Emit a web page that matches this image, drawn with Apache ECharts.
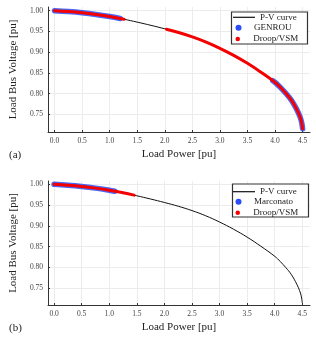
<!DOCTYPE html>
<html>
<head>
<meta charset="utf-8">
<script src="https://cdn.jsdelivr.net/npm/echarts@6/dist/echarts.min.js"></script>
<style>
html,body{margin:0;padding:0;background:#fff;}
#chart{width:316px;height:337px;}
</style>
</head>
<body>
<div id="chart"></div>
<script>
// ---- data ----
const pvP = [0, 0.25, 0.5, 0.75, 1.0, 1.25, 1.5, 1.75, 2.0, 2.25, 2.5, 2.75, 3.0, 3.25, 3.5, 3.75, 4.0, 4.1, 4.2, 4.3, 4.4, 4.45, 4.48, 4.5];
const pvV = [1.0, 0.9978, 0.9948, 0.9908, 0.9858, 0.9796, 0.9724, 0.9646, 0.9563, 0.9473, 0.9368, 0.9243, 0.9093, 0.8923, 0.8730, 0.851, 0.827, 0.8145, 0.800, 0.7835, 0.760, 0.745, 0.732, 0.715];

// panel (a)
const genrouP1 = [0, 0.25, 0.5, 0.75, 1.0, 1.19];
const genrouV1 = [1.0, 0.9978, 0.9948, 0.9908, 0.9858, 0.9812];
const genrouP2 = [3.96, 4.0, 4.1, 4.2, 4.3, 4.4, 4.45, 4.48, 4.5];
const genrouV2 = [0.831, 0.827, 0.8145, 0.800, 0.7835, 0.760, 0.745, 0.732, 0.715];
const droopAP1 = [0, 0.25, 0.5, 0.75, 1.0, 1.26];
const droopAV1 = [1.0, 0.9978, 0.9948, 0.9908, 0.9858, 0.9793];
const droopAP2 = [2.03, 2.25, 2.5, 2.75, 3.0, 3.25, 3.5, 3.75, 4.0, 4.1, 4.2, 4.3, 4.4, 4.45, 4.48, 4.5];
const droopAV2 = [0.9553, 0.9473, 0.9368, 0.9243, 0.9093, 0.8923, 0.8730, 0.851, 0.827, 0.8145, 0.800, 0.7835, 0.760, 0.745, 0.732, 0.715];

// panel (b)
const marcP = [0, 0.25, 0.5, 0.75, 1.0, 1.1];
const marcV = [1.0, 0.9978, 0.9948, 0.9908, 0.9858, 0.9834];
const droopBP = [0, 0.25, 0.5, 0.75, 1.0, 1.25, 1.45];
const droopBV = [1.0, 0.9978, 0.9948, 0.9908, 0.9858, 0.9796, 0.9740];

const xTicks = [0, 0.5, 1.0, 1.5, 2.0, 2.5, 3.0, 3.5, 4.0, 4.5];
const yTicks = [0.75, 0.80, 0.85, 0.90, 0.95, 1.00];

// ---- helpers ----
const zip = (a, b) => a.map((v, i) => [v, b[i]]);
const joinSeg = (...segs) => {
  const out = [];
  segs.forEach((s, i) => { if (i > 0) out.push(['-', '-']); out.push(...s); });
  return out;
};

const FONT = 'Liberation Serif';
const BLUE = '#2a4cf6';
const RED = '#f40000';

function xAxis(idx, min, max) {
  return {
    type: 'value', gridIndex: idx, min: min, max: max,
    name: 'Load Power [pu]', nameLocation: 'middle', nameGap: 17,
    nameTextStyle: {fontFamily: FONT, fontSize: 11, color: '#222'},
    axisLine: {show: true, onZero: false, lineStyle: {color: '#333', width: 1}},
    axisTick: {show: true, inside: true, length: 2, customValues: xTicks, lineStyle: {color: '#333'}},
    axisLabel: {customValues: xTicks, margin: 5, fontFamily: FONT, fontSize: 7.5, color: '#444',
      formatter: v => v.toFixed(1)},
    splitLine: {show: true, lineStyle: {color: '#ececec', width: 1}}
  };
}
function yAxis(idx, min, max) {
  return {
    type: 'value', gridIndex: idx, min: min, max: max,
    name: 'Load Bus Voltage [pu]', nameLocation: 'middle', nameGap: 25,
    nameTextStyle: {fontFamily: FONT, fontSize: 11, color: '#222'},
    axisLine: {show: true, onZero: false, lineStyle: {color: '#333', width: 1}},
    axisTick: {show: true, inside: true, length: 2, customValues: yTicks, lineStyle: {color: '#333'}},
    axisLabel: {customValues: yTicks, margin: 5, fontFamily: FONT, fontSize: 7.5, color: '#444',
      formatter: v => v.toFixed(2)},
    splitLine: {show: true, lineStyle: {color: '#ececec', width: 1}}
  };
}

function curveSeries(idx) {
  return {
    name: 'P-V curve', type: 'line', xAxisIndex: idx, yAxisIndex: idx,
    data: zip(pvP, pvV), symbol: 'none', smooth: 0.4,
    lineStyle: {color: '#111', width: 1}, itemStyle: {color: '#111'}, z: 2, silent: true
  };
}
function bandSeries(idx, name, data, color, width, opacity, z) {
  return {
    name: name, type: 'line', xAxisIndex: idx, yAxisIndex: idx,
    data: data, symbol: 'none', smooth: 0.4, connectNulls: false,
    lineStyle: {color: color, width: width, cap: 'round', join: 'round', opacity: opacity},
    itemStyle: {color: color}, z: z, silent: true
  };
}

const legendText = {fontFamily: FONT, fontSize: 9, color: '#222', lineHeight: 10};
function legendItem(name, icon, color, left, top, w, h) {
  return {
    data: [{name: name, icon: icon, itemStyle: {color: color, borderWidth: 0}}],
    left: left, top: top, itemWidth: w, itemHeight: h, padding: 0,
    selectedMode: false, textStyle: legendText, z: 5
  };
}

const option = {
  animation: false,
  backgroundColor: '#fff',
  grid: [
    {left: 41, top: 7, width: 269, height: 125},
    {left: 41, top: 181, width: 269, height: 124}
  ],
  xAxis: [xAxis(0, -0.118, 4.634), xAxis(1, -0.11, 4.64)],
  yAxis: [yAxis(0, 0.7073, 1.0089), yAxis(1, 0.7099, 1.0079)],
  legend: [
    legendItem('P-V curve', 'rect', '#111', 233, 12.3, 22, 1.2),
    legendItem('GENROU', 'circle', BLUE, 235.5, 22.7, 21, 6),
    legendItem('Droop/VSM', 'circle', RED, 235.5, 34, 21, 4.5),
    legendItem('P-V curve', 'rect', '#111', 233, 186.7, 22, 1.2),
    legendItem('Marconato', 'circle', BLUE, 235.5, 196.7, 21, 6),
    legendItem('Droop/VSM', 'circle', RED, 235.5, 207.7, 21, 4.5)
  ],
  graphic: [
    {type: 'rect', shape: {x: 231.5, y: 12, width: 76, height: 32}, style: {fill: '#fff', stroke: '#333', lineWidth: 1.2}, z: 4, silent: true},
    {type: 'rect', shape: {x: 232.5, y: 184, width: 76, height: 33}, style: {fill: '#fff', stroke: '#333', lineWidth: 1.2}, z: 4, silent: true},
    {type: 'text', left: 9, top: 150, style: {text: '(a)', font: '11px ' + FONT, fill: '#222'}, z: 5},
    {type: 'text', left: 9, top: 323, style: {text: '(b)', font: '11px ' + FONT, fill: '#222'}, z: 5}
  ],
  series: [
    curveSeries(0),
    bandSeries(0, 'GENROU', joinSeg(zip(genrouP1, genrouV1), zip(genrouP2, genrouV2)), BLUE, 5.5, 0.85, 3),
    bandSeries(0, 'Droop/VSM', joinSeg(zip(droopAP1, droopAV1), zip(droopAP2, droopAV2)), RED, 3, 1, 4),
    curveSeries(1),
    bandSeries(1, 'Marconato', zip(marcP, marcV), BLUE, 5.5, 0.85, 3),
    bandSeries(1, 'Droop/VSM', zip(droopBP, droopBV), RED, 3, 1, 4)
  ]
};

const chart = echarts.init(document.getElementById('chart'), null, {renderer: 'canvas'});
chart.setOption(option);
</script>
</body>
</html>
